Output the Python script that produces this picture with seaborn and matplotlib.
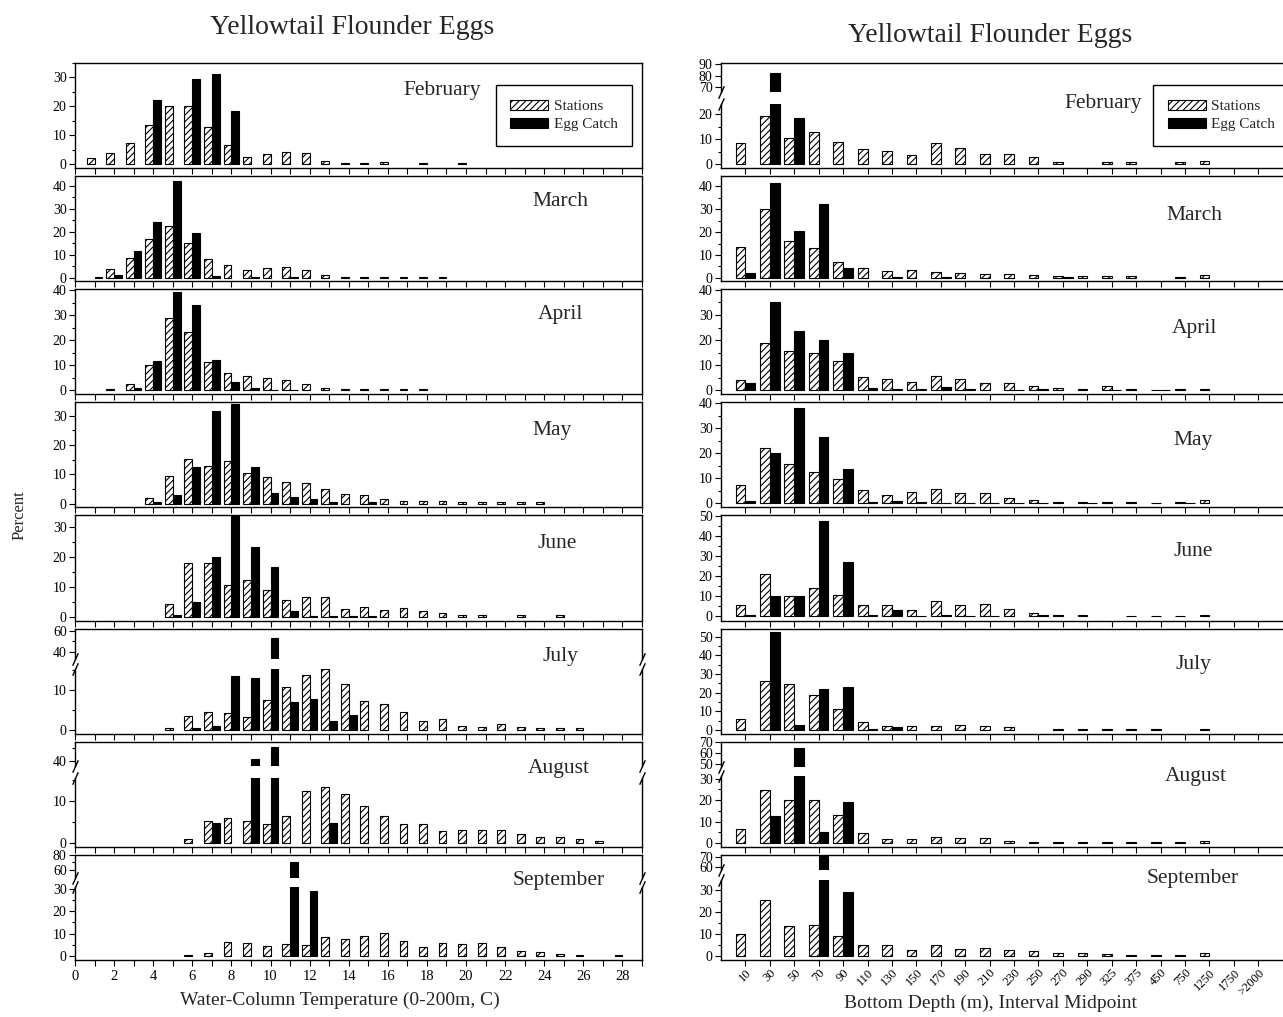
import numpy as np
import pandas as pd
import matplotlib
matplotlib.use("Agg")
import matplotlib.pyplot as plt
from matplotlib.patches import Patch
from matplotlib.ticker import MultipleLocator, FixedLocator
import seaborn as sns

sns.set_theme(style="ticks", rc={"axes.edgecolor": "black", "xtick.color": "black",
                                 "ytick.color": "black", "axes.linewidth": 1.0})
plt.rcParams["font.family"] = ["Liberation Serif", "DejaVu Serif"]
plt.rcParams["hatch.linewidth"] = 0.8

n = np.nan

months = ["February", "March", "April", "May", "June", "July", "August", "September"]
series = ["Stations", "Egg Catch"]
temps = list(range(1, 29))
depths = ["10", "30", "50", "70", "90", "110", "130", "150", "170", "190", "210",
          "230", "250", "270", "290", "325", "375", "450", "750", "1250", "1750", ">2000"]

# percent by water-column temperature bin (1..28 C)
feb_t_sta = [2.0, 3.8, 7.4, 13.5, 20.2, 20.2, 13.0, 6.6, 2.4, 3.4, 4.2, 3.8, 0.9, 0.5,
             0.5, 0.6, n, 0.5, n, 0.5] + [n] * 8
feb_t_egg = [n, n, n, 22.3, n, 29.3, 31.3, 18.4] + [n] * 20
mar_t_sta = [n, 4.1, 8.6, 17.0, 22.6, 15.4, 8.1, 5.7, 3.6, 4.5, 4.7, 3.6, 1.2, 0.5,
             0.5, 0.3, 0.5, 0.3, 0.3] + [n] * 9
mar_t_egg = [0.5, 1.2, 11.9, 24.4, 42.0, 19.5, 1.0, n, 0.3, n, 0.3] + [n] * 17
apr_t_sta = [n, 0.6, 2.4, 10.3, 28.9, 23.2, 11.3, 7.0, 5.6, 5.0, 4.0, 2.4, 1.0, 0.5,
             0.5, 0.5, 0.5, 0.5] + [n] * 10
apr_t_egg = [n, n, 1.1, 11.8, 39.2, 34.2, 12.1, 3.4, 0.9, 0.3, 0.3] + [n] * 17
may_t_sta = [n, n, n, 2.0, 9.5, 15.3, 12.8, 14.6, 10.5, 8.9, 7.2, 7.0, 4.9, 3.2, 2.8,
             1.4, 1.0, 0.8, 0.8, 0.7, 0.6, 0.5, 0.5, 0.5] + [n] * 4
may_t_egg = [n, n, n, 0.5, 2.9, 12.6, 31.4, 33.9, 12.6, 3.7, 2.3, 1.7, 0.5, n, 0.5] + [n] * 13
jun_t_sta = [n, n, n, n, 4.2, 18.1, 18.1, 10.6, 12.3, 8.8, 5.7, 6.6, 6.6, 2.6, 3.3,
             2.1, 2.9, 1.9, 1.2, 0.7, 0.5, n, 0.5, n, 0.5, n, n, n]
jun_t_egg = [n, n, n, n, 0.7, 4.8, 20.0, 33.7, 23.4, 16.7, 1.9, 0.3, 0.3, 0.2, 0.3] + [n] * 13
jul_t_sta = [n, n, n, n, 0.3, 3.4, 4.6, 4.1, 3.1, 7.6, 10.7, 13.8, 15.3, 11.6, 7.2,
             6.5, 4.6, 2.1, 2.6, 1.0, 0.7, 1.5, 0.6, 0.4, 0.4, 0.4, n, n]
jul_t_egg = [n, n, n, n, n, 0.3, 0.8, 13.5, 13.0, 52.9, 6.9, 7.8, 2.3, 3.7] + [n] * 14
aug_t_sta = [n, n, n, n, n, 0.9, 5.2, 5.9, 5.2, 4.4, 6.3, 12.4, 13.3, 11.6, 8.7, 6.3,
             4.5, 4.5, 2.7, 3.1, 3.0, 3.0, 2.0, 1.2, 1.2, 0.9, 0.4, n]
aug_t_egg = [n, n, n, n, n, n, 4.7, n, 41.3, 50.6, n, n, 4.7] + [n] * 15
sep_t_sta = [n, n, n, n, n, 0.6, 1.2, 6.1, 5.6, 4.5, 5.3, 4.9, 8.3, 7.4, 8.8, 10.5,
             6.5, 4.2, 5.9, 5.5, 5.8, 4.2, 2.3, 1.6, 1.0, 0.4, n, 0.4]
sep_t_egg = [n] * 10 + [70.7, 29.3] + [n] * 16

# percent by bottom-depth interval
feb_d_sta = [8.3, 19.2, 10.6, 12.8, 8.7, 6.0, 5.3, 3.6, 8.5, 6.4, 4.1, 4.0, 2.9, 0.7,
             n, 0.9, 0.9, n, 0.9, 1.3, n, n]
feb_d_egg = [n, 82.3, 18.3] + [n] * 19
mar_d_sta = [13.4, 30.0, 16.0, 13.2, 7.1, 4.3, 2.9, 3.3, 2.4, 2.0, 1.8, 1.5, 1.1, 0.8,
             0.7, 0.7, 0.7, n, 0.3, 1.0, n, n]
mar_d_egg = [2.0, 41.3, 20.4, 32.2, 4.4, n, 0.4, n, 0.3, n, n, n, n, 0.5] + [n] * 8
apr_d_sta = [4.3, 18.9, 15.5, 14.8, 11.5, 5.4, 4.4, 3.4, 5.7, 4.6, 3.0, 3.0, 1.6, 0.9,
             0.4, 1.6, 0.5, 0.3, 0.5, 0.5, n, n]
apr_d_egg = [3.0, 35.0, 23.6, 20.2, 14.8, 0.9, 0.6, 0.4, 1.3, 0.5, n, 0.3, 0.4, n, n,
             0.3, n, 0.3, n, n, n, n]
may_d_sta = [7.2, 22.2, 15.6, 12.5, 9.6, 5.2, 3.4, 4.6, 5.6, 4.3, 4.1, 2.3, 1.4, 0.6,
             0.6, 0.6, 0.6, 0.3, 0.6, 1.5, n, n]
may_d_egg = [0.8, 20.0, 38.0, 26.3, 13.8, 0.7, 0.8, 0.4, 0.3, 0.3, 0.3, 0.3, 0.3, n,
             0.3, n, n, n, 0.3, n, n, n]
jun_d_sta = [5.7, 21.0, 10.4, 14.3, 10.6, 5.6, 5.7, 3.4, 7.7, 5.6, 6.1, 3.9, 1.7, 0.5,
             0.6, n, 0.4, 0.4, 0.4, 0.8, n, n]
jun_d_egg = [0.8, 10.4, 10.4, 47.6, 27.0, 0.6, 3.0, 0.4, 0.6, 0.3, 0.3, n, 0.5] + [n] * 9
jul_d_sta = [5.9, 26.1, 24.6, 18.7, 11.0, 4.0, 2.2, 2.2, 2.2, 2.4, 2.2, 1.3, n, 0.6,
             0.5, 0.5, 0.5, 0.5, n, 0.6, n, n]
jul_d_egg = [n, 52.4, 2.8, 21.9, 23.3, 0.5, 1.3] + [n] * 15
aug_d_sta = [6.7, 24.9, 20.2, 20.2, 13.2, 4.6, 1.9, 1.9, 2.9, 2.4, 2.2, 0.8, 0.5, 0.5,
             0.5, 0.5, 0.5, 0.5, 0.5, 0.8, n, n]
aug_d_egg = [n, 12.4, 65.0, 5.1, 19.2] + [n] * 17
sep_d_sta = [9.8, 25.4, 13.4, 13.7, 9.0, 4.6, 4.6, 2.7, 4.6, 3.0, 3.5, 2.7, 1.9, 1.3,
             1.0, 0.8, 0.5, 0.5, 0.5, 1.0, n, n]
sep_d_egg = [n, n, n, 71.5, 29.1] + [n] * 17

temp_sta = [feb_t_sta, mar_t_sta, apr_t_sta, may_t_sta, jun_t_sta, jul_t_sta, aug_t_sta, sep_t_sta]
temp_egg = [feb_t_egg, mar_t_egg, apr_t_egg, may_t_egg, jun_t_egg, jul_t_egg, aug_t_egg, sep_t_egg]
depth_sta = [feb_d_sta, mar_d_sta, apr_d_sta, may_d_sta, jun_d_sta, jul_d_sta, aug_d_sta, sep_d_sta]
depth_egg = [feb_d_egg, mar_d_egg, apr_d_egg, may_d_egg, jun_d_egg, jul_d_egg, aug_d_egg, sep_d_egg]

# y ranges of each panel (lower part) and broken-axis settings:
# (upper ylim, upper height px, gap px, upper major ticks, upper minor ticks)
left_ylim = [(-1.4, 35), (-1.4, 44.3), (-1.6, 40.5), (-1.3, 34.5), (-1.3, 34),
             (-1, 15.5), (-1, 15.5), (-1.7, 31)]
right_ylim = [(-1.6, 24), (-1.5, 44.5), (-1.6, 40.3), (-1.6, 40.3), (-2, 50.5),
              (-2, 54.5), (-1.8, 31.5), (-1.9, 34.5)]
left_breaks = {5: ((34, 62), 30, 10, [40, 60], [50]),
               6: ((36, 55), 24, 12, [40], [50]),
               7: ((49, 80), 23, 9, [60, 80], [70])}
right_breaks = {0: ((66, 91), 29, 12, [70, 80, 90], []),
                6: ((48, 70.5), 25, 9, [50, 60, 70], []),
                7: ((57, 72), 15, 10, [60, 70], [])}

pal = {"Stations": "white", "Egg Catch": "black"}
HATCH = "/////"

W, H = 1283, 1017
fig = plt.figure(figsize=(W / 100, H / 100), dpi=100)


def px_axes(left, top, right, bottom):
    return fig.add_axes([left / W, 1 - bottom / H, (right - left) / W, (bottom - top) / H])


def draw_bars(ax, xs, sta, egg, native):
    df = pd.DataFrame({
        "x": list(xs) * 2,
        "series": ["Stations"] * len(xs) + ["Egg Catch"] * len(xs),
        "pct": list(sta) + list(egg),
    }).dropna()
    sns.barplot(data=df, x="x", y="pct", hue="series", hue_order=series,
                order=None if native else xs, native_scale=native,
                palette=pal, saturation=1, width=0.8, gap=0, errorbar=None,
                edgecolor="black", linewidth=0.8, legend=False, ax=ax)
    for p in ax.patches:
        if p.get_facecolor()[0] > 0.5:
            p.set_hatch(HATCH)
    ax.set_xlabel("")
    ax.set_ylabel("")


def style_x(ax, native, show_labels):
    if native:
        ax.set_xlim(0, 29)
        ax.xaxis.set_major_locator(MultipleLocator(2))
        ax.xaxis.set_minor_locator(MultipleLocator(1))
    else:
        ax.set_xlim(-1, 22.3)
    ax.tick_params(axis="x", which="both", direction="out", length=4, width=0.8,
                   top=False, labelbottom=show_labels, labelsize=10.5,
                   pad=3 if native else 1)
    if show_labels and not native:
        for t in ax.get_xticklabels():
            t.set_rotation(45)
            t.set_ha("right")
            t.set_rotation_mode("anchor")
            t.set_fontsize(9)


def style_y(ax, majors=None, minors=None):
    if majors is None:
        ax.yaxis.set_major_locator(MultipleLocator(10))
        ax.yaxis.set_minor_locator(MultipleLocator(5))
    else:
        ax.yaxis.set_major_locator(FixedLocator(majors))
        ax.yaxis.set_minor_locator(FixedLocator(minors))
    ax.tick_params(axis="y", which="major", direction="out", length=4, width=0.8,
                   right=False, labelsize=10, pad=2)
    ax.tick_params(axis="y", which="minor", direction="out", length=2.5, width=0.8,
                   right=False)


def mark_break(ax_up, ax_lo):
    kw = dict(marker=[(-0.45, -1), (0.45, 1)], markersize=9, linestyle="none",
              color="black", mec="black", mew=1, clip_on=False)
    ax_up.plot([0, 1], [0, 0], transform=ax_up.transAxes, **kw)
    ax_lo.plot([0, 1], [1, 1], transform=ax_lo.transAxes, **kw)


row_top = [63 + i * 113.1 for i in range(8)]
row_h = 105.1

for side in ("L", "R"):
    native = side == "L"
    left, right = (75, 642) if native else (721, 1290)
    xs = temps if native else depths
    ylims = left_ylim if native else right_ylim
    breaks = left_breaks if native else right_breaks
    sta_all = temp_sta if native else depth_sta
    egg_all = temp_egg if native else depth_egg
    for i in range(8):
        top = row_top[i]
        bottom = top + row_h
        last = i == 7
        if i in breaks:
            uylim, uh, gap, umaj, umin = breaks[i]
            ax_up = px_axes(left, top, right, top + uh)
            ax = px_axes(left, top + uh + gap, right, bottom)
            draw_bars(ax_up, xs, sta_all[i], egg_all[i], native)
            style_x(ax_up, native, False)
            ax_up.tick_params(axis="x", which="both", bottom=False, labelbottom=False)
            ax_up.set_ylim(*uylim)
            style_y(ax_up, umaj, umin)
            ax_up.spines["bottom"].set_visible(False)
            draw_bars(ax, xs, sta_all[i], egg_all[i], native)
            ax.spines["top"].set_visible(False)
            mark_break(ax_up, ax)
        else:
            ax = px_axes(left, top, right, bottom)
            draw_bars(ax, xs, sta_all[i], egg_all[i], native)
        style_x(ax, native, last)
        ax.set_ylim(*ylims[i])
        style_y(ax)

# month labels
left_lab = [(442, 91), (560, 202), (560, 315), (552, 430), (557, 543), (560, 656),
            (559, 768), (559, 881)]
right_lab = [(1103, 103), (1194, 215), (1194, 328), (1193, 440), (1193, 551),
             (1193, 664), (1196, 776), (1193, 879)]
for i, m in enumerate(months):
    for (x, y) in (left_lab[i], right_lab[i]):
        fig.text(x / W, 1 - y / H, m, ha="center", va="center", fontsize=15.5)

fig.text(352 / W, 1 - 27 / H, "Yellowtail Flounder Eggs", ha="center", va="center", fontsize=20)
fig.text(990 / W, 1 - 35 / H, "Yellowtail Flounder Eggs", ha="center", va="center", fontsize=20)
fig.text(340 / W, 1 - 1000 / H, "Water-Column Temperature (0-200m, C)", ha="center",
         va="center", fontsize=14)
fig.text(990 / W, 1 - 1003 / H, "Bottom Depth (m), Interval Midpoint", ha="center",
         va="center", fontsize=14)
fig.text(20 / W, 1 - 515 / H, "Percent", ha="center", va="center", rotation=90, fontsize=12)

handles = [Patch(facecolor="white", edgecolor="black", hatch=HATCH, linewidth=0.8),
           Patch(facecolor="black", edgecolor="black", linewidth=0.8)]
leg_kw = dict(fontsize=11, frameon=True, fancybox=False, framealpha=1, edgecolor="black",
              handlelength=2.5, handleheight=0.65, labelspacing=0.3, borderpad=0.95,
              handletextpad=0.35, borderaxespad=0)
lg1 = fig.legend(handles, series, loc="upper right", bbox_to_anchor=(632 / W, 1 - 85 / H), **leg_kw)
lg2 = fig.legend(handles, series, loc="upper left", bbox_to_anchor=(1153 / W, 1 - 85 / H), **leg_kw)
for lg in (lg1, lg2):
    lg.get_frame().set_linewidth(1.0)

fig.savefig("out.png", dpi=100)
